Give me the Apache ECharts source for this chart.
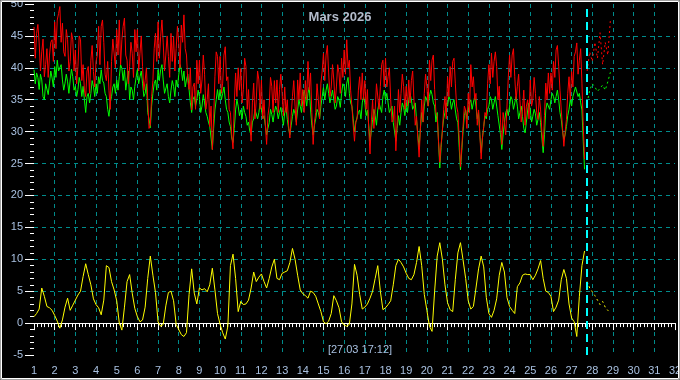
<!DOCTYPE html>
<html><head><meta charset="utf-8">
<script src="https://cdn.jsdelivr.net/npm/echarts@6/dist/echarts.min.js"></script>
<style>html,body{margin:0;padding:0;background:#000;}#c{width:680px;height:380px;}</style>
</head><body><div id="c"></div><script>
// time axis: day of month; red/green every 1.5 h, yellow every 3 h
const START = 1, STEP_RG = 0.0625, STEP_Y = 0.125, STEP_FC = 0.125;
const FC_START = 27.75;
const CURSOR = 27.717;
const cursorLabel = '[27.03 17:12]';
const titleText = 'Mars 2026';
const xTickLabels = Array.from({length: 32}, (_, i) => String(i + 1));
const yTickLabels = ['-5','0','5','10','15','20','25','30','35','40','45','50'];

const redObs = [
46.4,41.5,45.4,46.8,43.9,39.5,42.5,44.5,38.6,40.5,43.0,38.5,42.0,44.0,44.4,41.0,
47.2,43.0,47.5,48.5,49.6,44.0,47.0,42.5,41.8,46.0,44.4,39.5,41.0,45.5,44.4,39.5,
42.8,37.5,40.2,45.0,44.4,38.0,40.5,36.5,35.5,39.5,40.2,36.0,41.2,43.5,39.4,37.0,
41.0,42.0,46.5,40.5,46.5,47.5,44.0,39.0,38.0,41.0,36.5,33.5,41.0,44.5,44.5,40.0,
46.0,42.0,47.5,40.5,44.4,46.5,47.8,42.0,41.2,37.5,40.2,44.0,42.3,38.5,46.0,42.5,
46.0,39.5,42.3,45.0,40.2,36.5,38.0,40.0,35.0,30.5,31.0,35.5,38.0,43.0,45.4,41.0,
47.2,41.5,44.9,47.5,43.9,39.5,42.0,45.0,41.8,38.5,45.4,41.0,44.9,39.5,43.0,46.5,
43.9,40.0,46.7,44.0,48.3,43.0,42.0,38.0,36.6,40.0,33.4,37.0,37.6,33.5,41.2,37.5,
41.2,36.0,38.1,42.0,39.0,33.5,35.0,37.5,30.8,34.0,27.2,32.0,38.6,42.5,41.8,37.5,
41.8,36.0,37.6,42.0,43.3,38.0,38.6,33.5,33.0,29.5,27.3,34.5,39.2,35.5,40.0,36.5,
39.9,34.5,36.6,41.5,40.2,33.5,36.6,32.0,28.5,34.5,37.6,32.0,35.0,39.5,38.1,33.5,
38.1,32.0,35.0,31.0,28.0,32.5,34.0,38.5,37.1,33.0,38.0,34.5,38.1,33.0,36.6,39.0,
36.0,32.5,37.0,33.0,35.0,31.0,29.0,32.5,35.5,38.0,34.0,31.0,38.1,35.0,39.2,34.0,
36.6,33.0,38.0,35.0,41.0,36.5,39.2,33.0,28.0,31.5,33.0,37.5,35.0,32.0,37.6,39.5,
42.3,38.0,42.0,43.5,39.2,35.5,37.0,40.5,38.1,34.5,37.0,40.5,39.2,36.0,41.5,38.5,
42.8,39.0,44.4,40.0,41.2,36.5,34.0,31.0,28.5,31.5,32.0,36.5,38.6,35.0,39.2,35.0,
38.0,33.5,36.6,30.5,26.5,31.5,35.0,30.5,33.4,37.5,37.6,33.5,37.1,40.5,41.2,37.0,
41.5,37.0,38.6,40.0,35.0,31.5,31.9,34.0,27.0,31.5,36.6,33.0,36.0,39.0,37.1,33.5,
37.1,34.0,38.1,34.5,38.0,39.5,35.0,31.0,32.4,29.0,26.0,30.5,35.0,31.5,36.0,39.0,
37.1,34.0,41.2,38.0,41.2,42.0,36.6,33.0,32.4,28.5,25.2,28.0,30.0,33.5,35.5,32.0,
38.6,35.5,40.2,37.0,41.0,41.5,37.6,34.0,33.0,29.0,24.5,27.5,30.8,34.0,33.4,30.5,
36.0,33.0,40.5,37.0,38.6,35.0,36.0,31.0,33.4,29.5,25.7,29.0,30.8,33.0,32.4,37.5,
40.5,37.5,42.3,38.5,41.0,42.5,40.2,35.0,37.1,31.5,28.0,33.0,31.4,29.5,34.0,38.5,
42.0,38.5,42.0,43.0,38.6,35.0,37.1,39.0,35.0,31.5,33.4,36.5,31.0,34.0,35.0,32.0,
38.1,34.0,35.0,38.5,36.0,33.0,31.9,35.5,33.4,30.0,27.7,32.5,37.6,35.0,39.2,36.0,
39.2,36.5,41.0,38.5,42.8,43.5,40.2,36.5,33.4,30.5,27.7,30.0,31.9,36.0,38.6,35.0,
39.4,37.0,41.8,42.5,43.9,39.0,41.2,43.0,37.6,31.0,25.7
];
const greenObs = [
39.7,37.5,39.2,38.5,36.6,39.0,38.1,35.5,35.0,37.5,37.6,35.8,37.6,39.5,38.4,37.0,
40.2,38.5,41.2,39.5,39.2,40.5,38.1,36.5,37.6,39.0,37.8,36.0,38.1,39.8,38.6,36.5,
37.1,35.5,36.6,38.5,37.5,35.5,37.1,35.0,33.0,35.5,36.0,34.5,36.0,38.0,37.1,35.5,
37.5,36.0,38.6,37.5,39.7,38.0,37.6,36.0,35.5,33.5,32.4,34.5,35.5,37.0,37.5,36.0,
38.1,36.5,38.6,40.5,39.9,38.0,39.7,36.5,38.1,39.5,35.0,37.0,36.5,35.0,37.1,38.5,
39.7,37.5,38.6,39.5,37.6,35.5,36.0,37.5,33.0,32.0,30.6,34.0,36.0,37.5,38.1,36.5,
39.7,38.0,39.7,40.5,38.1,36.0,36.0,37.5,35.5,34.5,36.5,38.0,37.1,35.5,38.1,37.0,
38.9,40.5,39.7,38.0,39.5,37.0,38.1,39.0,36.6,34.5,33.0,35.0,35.5,34.0,35.0,36.5,
35.5,33.0,34.0,35.8,34.5,33.0,32.4,31.5,30.8,29.0,27.2,30.5,33.4,35.0,36.6,35.0,
36.6,35.0,36.0,37.0,35.0,33.5,33.0,31.5,30.8,29.0,28.3,30.5,33.4,35.0,34.0,32.5,
33.4,32.0,34.0,33.0,32.4,31.0,31.5,30.0,29.5,31.5,32.0,33.5,33.4,32.0,33.0,34.5,
33.5,32.0,32.5,31.0,29.5,30.5,31.4,33.5,32.7,31.5,33.0,34.0,33.4,32.0,33.0,33.8,
32.4,31.0,33.0,33.8,31.9,30.5,29.5,31.0,32.4,33.5,32.8,31.5,33.4,35.0,34.0,33.0,
35.0,36.5,35.5,34.0,36.0,37.0,33.4,31.0,29.5,31.0,32.0,33.5,33.0,32.0,34.0,35.5,
36.9,35.0,36.5,37.5,36.0,34.5,35.5,36.5,35.0,33.5,34.0,35.5,35.0,33.8,36.0,37.5,
37.1,35.5,37.6,38.5,36.0,34.5,34.0,32.0,30.0,31.5,31.4,33.0,33.4,32.0,34.5,35.5,
34.5,32.5,33.4,31.0,28.5,30.0,31.9,33.5,32.5,31.0,33.4,34.5,34.5,33.0,35.5,36.5,
35.0,36.0,34.5,33.0,33.0,34.0,31.4,30.0,28.5,30.5,32.5,31.0,33.0,34.5,33.8,32.5,
34.5,33.0,35.0,36.0,35.0,33.5,33.5,34.5,31.9,29.5,27.5,30.5,33.0,31.5,34.0,35.5,
35.0,34.0,35.5,36.5,35.8,34.5,34.0,31.5,33.0,28.5,24.3,27.5,30.3,32.0,33.0,34.5,
34.0,35.5,35.0,33.5,34.5,35.0,33.4,32.0,31.4,27.5,24.0,27.0,30.0,32.5,33.4,32.0,
33.4,34.5,35.0,33.5,34.5,35.5,34.0,32.0,33.0,29.5,26.7,29.0,30.8,32.5,32.0,33.5,
34.0,35.5,35.0,33.5,34.5,35.5,34.0,32.5,32.5,29.5,27.2,29.5,31.4,33.0,33.5,32.5,
34.0,35.5,35.0,33.5,34.5,35.5,34.0,32.0,33.0,34.0,32.4,30.5,29.8,31.5,33.4,34.5,
33.4,31.5,32.4,33.5,32.8,31.0,31.9,33.0,31.4,29.0,26.7,29.5,33.4,34.5,34.5,33.5,
35.0,36.0,35.5,34.5,35.5,36.5,35.0,33.0,31.9,30.0,28.8,29.5,30.8,32.5,33.5,35.0,
34.0,35.5,35.5,37.0,37.1,35.5,36.0,34.5,33.4,28.5,24.1
];
const yellowObs = [
1.0,1.5,2.2,5.5,4.2,2.6,2.4,2.0,
1.2,0.3,-0.8,0.5,2.5,3.9,2.0,2.8,
3.6,4.4,5.0,7.3,9.3,7.6,6.0,3.8,
2.9,2.4,1.3,3.6,9.0,8.7,6.5,5.2,
3.5,0.0,-1.1,2.5,6.5,7.6,4.7,2.3,
1.0,0.2,0.5,2.5,7.0,10.5,7.5,4.8,
0.2,-0.5,-0.2,2.7,4.8,5.0,3.5,-0.2,
-1.0,-1.8,-2.1,-1.5,4.5,8.5,4.7,3.0,
5.5,5.2,5.4,4.9,6.0,8.6,5.2,1.5,
-0.2,-1.5,-2.5,-0.5,9.0,10.8,7.0,1.8,
3.4,2.9,3.0,3.6,5.5,8.0,6.5,7.2,
7.7,6.5,5.5,7.0,8.8,10.0,7.0,6.8,
7.8,8.0,8.2,9.5,11.7,10.0,7.5,5.2,
4.6,4.3,3.9,5.0,4.8,4.2,3.0,1.8,
0.2,-0.1,0.3,1.5,4.3,3.5,2.4,0.2,
-0.3,-0.5,-0.2,3.0,9.2,7.5,4.5,2.2,
2.5,3.0,3.9,5.0,7.0,9.0,5.0,2.1,
2.4,2.9,3.5,6.0,9.0,10.0,9.5,8.8,
7.8,7.0,6.8,7.6,9.5,12.0,9.0,4.5,
2.0,-0.5,-1.3,5.0,10.5,12.6,10.0,6.0,
3.2,2.1,1.8,6.8,11.0,12.6,9.9,7.0,
3.5,2.2,2.6,5.5,8.5,10.5,8.8,4.0,
1.5,0.9,2.0,3.8,7.5,9.5,8.0,4.0,
2.6,2.0,1.5,5.7,6.3,7.5,7.7,7.6,
7.6,6.8,7.5,8.5,9.8,7.0,5.0,4.8,
4.2,1.8,2.5,3.6,6.8,8.4,7.0,3.0,
0.8,0.2,-2.1,4.2,9.0,11.3
];
const redFc = [39.5,42.5,41.0,44.0,41.5,45.5,40.5,44.0,42.0,47.5];
const greenFc = [34.5,36.5,37.5,37.0,36.3,36.8,37.3,36.5,37.8,39.3];
const yellowFc = [6.5,5.5,4.9,4.3,3.6,2.9,3.4,2.5,2.0,1.6];

const toPts = (arr, t0, step) => arr.map((v, i) => [t0 + i * step, v]);
const LBL = '#a8c0e0';
const GRIDC = '#008c8c';

const chart = echarts.init(document.getElementById('c'), null, {renderer: 'canvas'});
const lineSeries = (name, data, color, dotted) => ({
  name, type: 'line', data, showSymbol: false, symbol: 'none', animation: false,
  lineStyle: {color, width: 1, type: dotted ? [2, 3] : 'solid'}, z: 3
});
chart.setOption({
  backgroundColor: '#000000',
  animation: false,
  title: {text: titleText, left: 'center', top: 11, padding: 0,
    textStyle: {color: '#b4bccc', fontSize: 13, fontWeight: 'bold', fontFamily: 'Arial'}},
  grid: {left: 34, right: 5, top: 4, bottom: 25, containLabel: false, outerBoundsMode: 'none'},
  xAxis: {
    type: 'value', min: 1, max: 32, interval: 1,
    axisLine: {show: true, lineStyle: {color: '#ffffff', width: 1}},
    axisTick: {show: true, length: 7, lineStyle: {color: '#ffffff'}},
    minorTick: {show: true, splitNumber: 6, length: 4, lineStyle: {color: '#ffffff'}},
    axisLabel: {color: LBL, fontSize: 11, fontFamily: 'Arial', margin: 10,
      formatter: v => xTickLabels[Math.round(v) - 1]},
    splitLine: {show: true, showMinLine: false, showMaxLine: false,
      lineStyle: {color: GRIDC, type: [4, 4], width: 1}}
  },
  yAxis: {
    type: 'value', min: -5, max: 50, interval: 5,
    name: '° C', nameLocation: 'middle', nameGap: 24, nameRotate: 90,
    nameTextStyle: {color: LBL, fontSize: 12, fontFamily: 'Arial'},
    axisLine: {show: false},
    axisTick: {show: true, length: 9, lineStyle: {color: '#ffffff'}},
    minorTick: {show: true, splitNumber: 5, length: 4, lineStyle: {color: '#ffffff'}},
    axisLabel: {color: LBL, fontSize: 11, fontFamily: 'Arial', margin: 11,
      formatter: v => yTickLabels[Math.round((v + 5) / 5)]},
    splitLine: {show: true, showMinLine: false, showMaxLine: false,
      lineStyle: {color: GRIDC, type: [4, 4], width: 1}}
  },
  graphic: [
    {type: 'rect', shape: {x: 0.5, y: 0.5, width: 679, height: 379}, style: {fill: null, stroke: '#a0a0a0', lineWidth: 1}, z: 100},
    {type: 'rect', shape: {x: 1.5, y: 1.5, width: 677, height: 377}, style: {fill: null, stroke: '#ffffff', lineWidth: 1}, z: 100},
    {type: 'text', x: 360, y: 350, z: 50,
      style: {text: cursorLabel, fill: LBL, font: '11px Arial', textAlign: 'center', textVerticalAlign: 'middle'}}
  ],
  series: [
    lineSeries('mean', toPts(greenObs, START, STEP_RG), '#00ff00', false),
    lineSeries('max', toPts(redObs, START, STEP_RG), '#ff0000', false),
    lineSeries('min', toPts(yellowObs, START, STEP_Y), '#ffff00', false),
    lineSeries('meanFc', toPts(greenFc, FC_START, STEP_FC), '#00ff00', true),
    lineSeries('maxFc', toPts(redFc, FC_START, STEP_FC), '#ff0000', true),
    lineSeries('minFc', toPts(yellowFc, FC_START, STEP_FC), '#ffff00', true),
    {type: 'line', data: [], markLine: {silent: true, symbol: 'none', animation: false,
      label: {show: false},
      lineStyle: {color: '#00ffff', width: 2, type: [8, 5]},
      data: [{xAxis: CURSOR}]}}
  ]
});
</script></body></html>
